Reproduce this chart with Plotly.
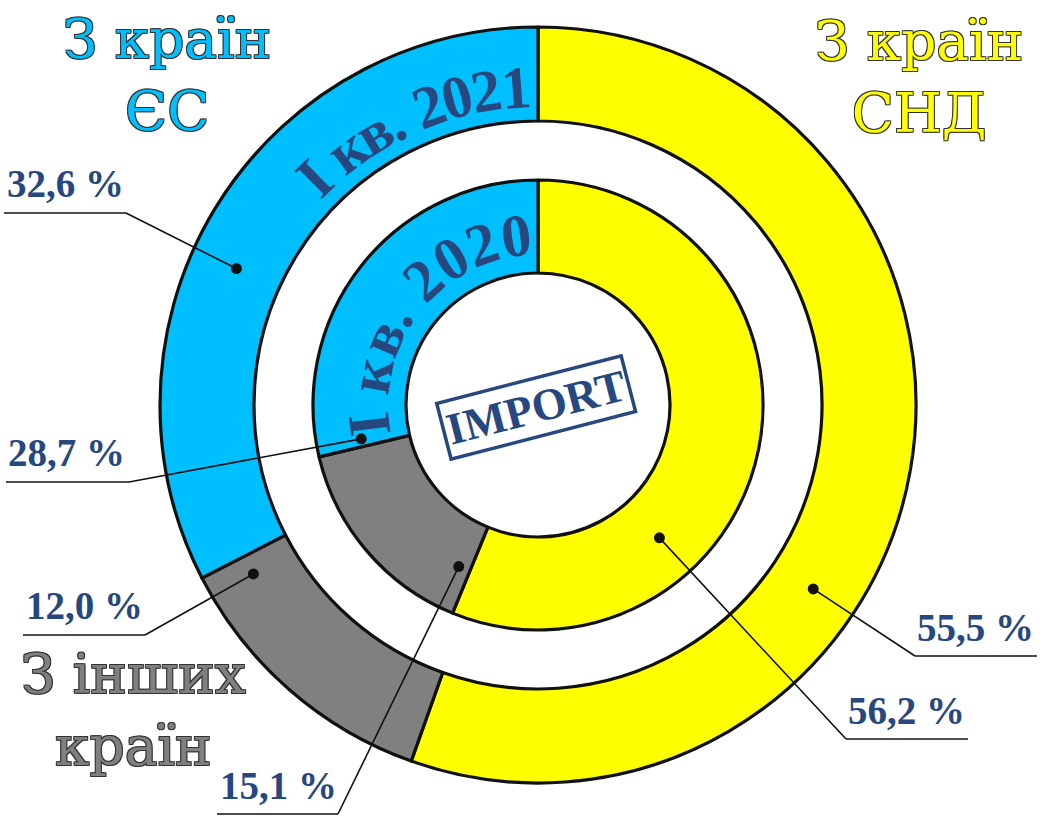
import math
import plotly.graph_objects as go

# ---------------- data ----------------
categories = ["З країн СНД", "З інших країн", "З країн ЄС"]
share_2021 = [55.5, 12.0, 32.6]   # outer ring, I кв. 2021
share_2020 = [56.2, 15.1, 28.7]   # inner ring, I кв. 2020
ring_titles = ["I кв. 2021", "I кв. 2020"]
center_text = "IMPORT"
group_titles = ["З країн<br>СНД", "З інших<br>країн", "З країн<br>ЄС"]

# ---------------- style / layout ----------------
W, H = 1044, 819
CX, CY = 538, 405
R_OUT, R_OUT_HOLE = 378, 284
R_IN, R_IN_HOLE = 225, 132
slice_colors = ["#FFFF00", "#808080", "#00BFFF"]
dark_blue = "#27477F"
title_colors = ["#FFFF00", "#808080", "#00BFFF"]


def fx(x):
    return x / W


def fy(y):
    return 1 - y / H


def slice_angle(values, i, frac):
    tot = sum(values)
    start = sum(values[:i]) / tot * 360
    return start + frac * values[i] / tot * 360


def polar(r, deg):
    t = math.radians(deg)
    return CX + r * math.sin(t), CY - r * math.cos(t)


fig = go.Figure()

for vals, r, hole in [(share_2021, R_OUT, R_OUT_HOLE), (share_2020, R_IN, R_IN_HOLE)]:
    fig.add_trace(go.Pie(
        values=vals, labels=categories, sort=False, direction="clockwise",
        rotation=0, hole=hole / r,
        domain=dict(x=[fx(CX - r), fx(CX + r)], y=[fy(CY + r), fy(CY - r)]),
        marker=dict(colors=slice_colors, line=dict(color="#111111", width=3.2)),
        textinfo="none", hoverinfo="skip", showlegend=False,
    ))

annotations = []
shapes = []

# ---------------- leader lines and value labels ----------------
# (ring values, slice index, position inside slice, ring mid radius, label centre, underline y, x0, x1, elbow x)
label_specs = [
    (share_2021, 0, 0.62, 331, (975, 627), 656, 915, 1037, 915),
    (share_2021, 1, 0.92, 331, (84, 605), 635, 23, 145, 145),
    (share_2021, 2, 0.44, 331, (65, 184), 213, 4, 126, 126),
    (share_2020, 0, 0.68, 180, (906, 710), 739, 846, 968, 846),
    (share_2020, 1, 0.07, 180, (278, 785), 814, 217, 338, 338),
    (share_2020, 2, 0.024, 180, (66, 452), 482, 6, 129, 129),
]
for vals, i, frac, rmid, (tx, ty), uy, ux0, ux1, ex in label_specs:
    ang = slice_angle(vals, i, frac)
    dx, dy = polar(rmid, ang)
    line = dict(color="#111111", width=1.6)
    shapes.append(dict(type="line", xref="paper", yref="paper", x0=fx(ux0), y0=fy(uy),
                       x1=fx(ux1), y1=fy(uy), line=line, layer="above"))
    shapes.append(dict(type="line", xref="paper", yref="paper", x0=fx(ex), y0=fy(uy),
                       x1=fx(dx), y1=fy(dy), line=line, layer="above"))
    rr = 5.5
    shapes.append(dict(type="circle", xref="paper", yref="paper", x0=fx(dx - rr), x1=fx(dx + rr),
                       y0=fy(dy + rr), y1=fy(dy - rr), fillcolor="#111111",
                       line=dict(color="#111111", width=0), layer="above"))
    txt = f"{vals[i]:.1f}".replace(".", ",") + " %"
    annotations.append(dict(x=fx(tx), y=fy(ty), xref="paper", yref="paper", text=txt,
                            showarrow=False, xanchor="center", yanchor="middle",
                            font=dict(family="Liberation Serif", size=39, color=dark_blue,
                                      weight="bold")))

# ---------------- curved ring titles ----------------
CHAR_W = {"I": 0.389, " ": 0.25, "к": 0.56, "в": 0.54, ".": 0.25}


def arc_text(text, r_center, r_adv, center_deg, size):
    widths = [CHAR_W.get(c, 0.5) * size for c in text]
    span = sum(widths) / r_adv
    start = math.radians(center_deg) - span / 2
    cum = 0
    for c, w in zip(text, widths):
        th = start + (cum + w / 2) / r_adv
        cum += w
        if c == " ":
            continue
        x, y = polar(r_center, math.degrees(th))
        ang = math.degrees(th)
        if ang > 180:
            ang -= 360
        annotations.append(dict(x=fx(x), y=fy(y), xref="paper", yref="paper", text=c,
                                showarrow=False, xanchor="center", yanchor="middle",
                                textangle=ang,
                                font=dict(family="Liberation Serif", size=size,
                                          color=dark_blue, weight="bold")))


arc_text(ring_titles[0], 318, 322, 336.0, 60)
arc_text(ring_titles[1], 170, 146, 308.6, 60)

# ---------------- IMPORT stamp ----------------
annotations.append(dict(x=fx(536), y=fy(407), xref="paper", yref="paper",
                        text=center_text, showarrow=False,
                        xanchor="center", yanchor="middle", textangle=-14.5,
                        font=dict(family="Liberation Serif", size=45, color=dark_blue,
                                  weight="bold"),
                        bordercolor=dark_blue, borderwidth=3.5, borderpad=2,
                        bgcolor="white"))

# ---------------- group titles ----------------
outline = "1px 1px 0px #333, -1px -1px 0px #333, 1px -1px 0px #333, -1px 1px 0px #333"
title_pos = [(919, 77), (133, 710), (167, 75)]
for t, c, (x, y) in zip(group_titles, title_colors, title_pos):
    annotations.append(dict(x=fx(x), y=fy(y), xref="paper", yref="paper", text=t,
                            showarrow=False, xanchor="center", yanchor="middle",
                            align="center",
                            font=dict(family="DejaVu Serif", size=55, color=c,
                                      shadow=outline)))

fig.update_layout(
    width=W, height=H, margin=dict(l=0, r=0, t=0, b=0),
    paper_bgcolor="white", plot_bgcolor="white", showlegend=False,
    annotations=annotations, shapes=shapes,
)

fig.write_html("out.html")
